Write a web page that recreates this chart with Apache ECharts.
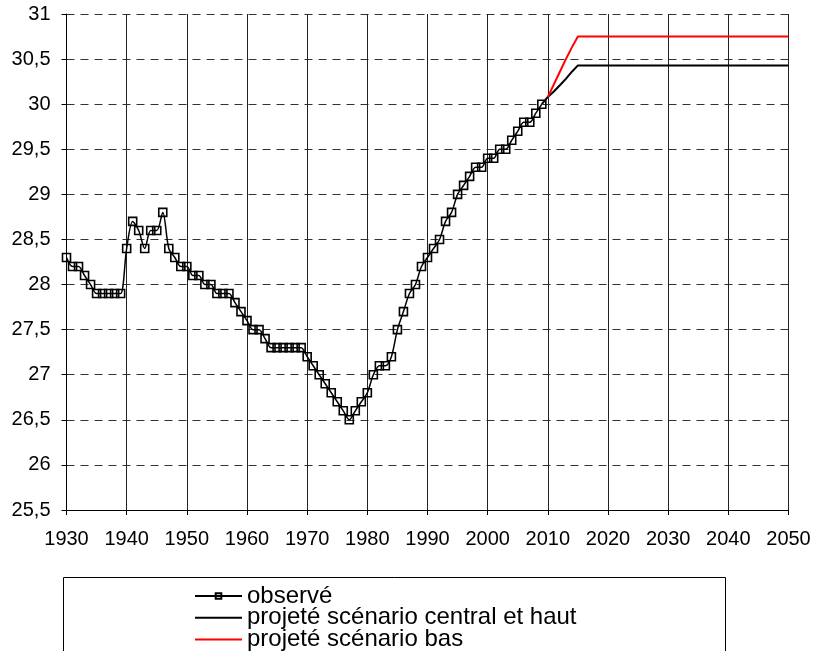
<!DOCTYPE html>
<html lang="fr">

<head>
  <meta charset="UTF-8" />
  <title>Âge moyen</title>
  <script src="https://cdn.jsdelivr.net/npm/echarts@6/dist/echarts.min.js"></script>
  <style>
    body { margin: 0; background: #fff; }
  </style>
</head>

<body>
  <div id="main" style="width: 815px;height:651px;"></div>
  <script type="text/javascript">
    // valeurs observées, une par année à partir de 1930
    var firstYear = 1930
    var observed = [
      28.3, 28.2, 28.2, 28.1, 28.0, 27.9, 27.9, 27.9, 27.9, 27.9,
      28.4, 28.7, 28.6, 28.4, 28.6, 28.6, 28.8, 28.4, 28.3, 28.2,
      28.2, 28.1, 28.1, 28.0, 28.0, 27.9, 27.9, 27.9, 27.8, 27.7,
      27.6, 27.5, 27.5, 27.4, 27.3, 27.3, 27.3, 27.3, 27.3, 27.3,
      27.2, 27.1, 27.0, 26.9, 26.8, 26.7, 26.6, 26.5, 26.6, 26.7,
      26.8, 27.0, 27.1, 27.1, 27.2, 27.5, 27.7, 27.9, 28.0, 28.2,
      28.3, 28.4, 28.5, 28.7, 28.8, 29.0, 29.1, 29.2, 29.3, 29.3,
      29.4, 29.4, 29.5, 29.5, 29.6, 29.7, 29.8, 29.8, 29.9, 30.0
    ]
    // projections
    var centralYears = [2009, 2010, 2011, 2012, 2013, 2014, 2015, 2050]
    var centralValues = [30.0, 30.08, 30.14, 30.21, 30.28, 30.36, 30.43, 30.43]
    var basYears = [2010, 2011, 2012, 2013, 2014, 2015, 2050]
    var basValues = [30.08, 30.22, 30.36, 30.5, 30.63, 30.75, 30.75]

    var seriesNames = ['observé', 'projeté scénario central et haut', 'projeté scénario bas']

    var font = 'Arial, "Liberation Sans", sans-serif'

    function pairs(xs, ys) {
      return xs.map(function (x, i) { return [x, ys[i]] })
    }

    // une légende par ligne, pour éviter le retour en colonnes
    function legendRow(i) {
      var item = { name: seriesNames[i] }
      if (i > 0) item.itemStyle = { opacity: 0 }
      return {
        orient: 'vertical',
        left: 194,
        top: 584 + i * 21.7,
        padding: 0,
        itemWidth: 47,
        itemHeight: 7,
        textStyle: { fontSize: 24, fontFamily: font, color: '#000', lineHeight: 21.7 },
        data: [item]
      }
    }

    var myChart = echarts.init(document.getElementById('main'))
    var option = {
      backgroundColor: '#fff',
      animation: false,
      grid: { left: 66.5, right: 26.5, top: 14, bottom: 141 },
      xAxis: {
        type: 'value',
        min: 1930,
        max: 2050,
        interval: 10,
        axisLine: { lineStyle: { color: '#000', width: 1 } },
        axisTick: { show: true, length: 5, lineStyle: { color: '#000' } },
        axisLabel: {
          color: '#000', fontSize: 20, fontFamily: font, margin: 19,
          formatter: function (v) { return String(v) }
        },
        splitLine: { show: true, lineStyle: { color: '#222', width: 1, type: 'solid' } }
      },
      yAxis: {
        type: 'value',
        min: 25.5,
        max: 31,
        interval: 0.5,
        axisLine: { show: true, lineStyle: { color: '#000', width: 1 } },
        axisTick: { show: true, length: 5, lineStyle: { color: '#000' } },
        axisLabel: {
          color: '#000', fontSize: 20, fontFamily: font, margin: 16,
          formatter: function (v) { return String(v).replace('.', ',') }
        },
        splitLine: { show: true, lineStyle: { color: '#333', width: 1, type: [8, 6] } }
      },
      legend: [legendRow(0), legendRow(1), legendRow(2)],
      graphic: [{
        type: 'rect',
        left: 61,
        top: 575,
        shape: { width: 662, height: 100 },
        style: { fill: 'none', stroke: '#000', lineWidth: 1 },
        z: -1
      }],
      series: [
        {
          name: seriesNames[1],
          type: 'line',
          data: pairs(centralYears, centralValues),
          symbol: 'none',
          lineStyle: { color: '#000', width: 2 },
          itemStyle: { color: '#000' },
          z: 2
        },
        {
          name: seriesNames[2],
          type: 'line',
          data: pairs(basYears, basValues),
          symbol: 'none',
          lineStyle: { color: '#ff0000', width: 2 },
          itemStyle: { color: '#ff0000' },
          z: 3
        },
        {
          name: seriesNames[0],
          type: 'line',
          data: observed.map(function (v, i) { return [firstYear + i, v] }),
          smooth: 0.3,
          symbol: 'rect',
          symbolSize: 8,
          lineStyle: { color: '#000', width: 1.5 },
          itemStyle: { color: 'rgba(255,255,255,0)', borderColor: '#000', borderWidth: 1.6 },
          z: 4
        }
      ]
    }
    myChart.setOption(option)
  </script>
</body>

</html>
